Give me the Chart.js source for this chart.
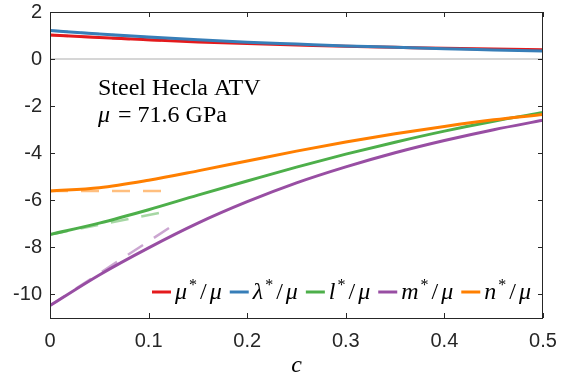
<!DOCTYPE html>
<html>
<head>
<meta charset="utf-8">
<script src="https://cdn.jsdelivr.net/npm/chart.js@4/dist/chart.umd.min.js"></script>
<style>
  html, body { margin: 0; padding: 0; background: #fff; }
  canvas { display: block; }
</style>
</head>
<body>
<canvas id="chart" width="561" height="382"></canvas>
<script>
// concentration c
const cValues = [0, 0.05, 0.1, 0.15, 0.2, 0.25, 0.3, 0.35, 0.4, 0.45, 0.5]

// normalised moduli
const muStar     = [1.02, 0.92, 0.82, 0.73, 0.66, 0.60, 0.54, 0.50, 0.46, 0.43, 0.40]
const lambdaStar = [1.21, 1.07, 0.94, 0.82, 0.72, 0.64, 0.56, 0.50, 0.44, 0.39, 0.34]
const lStar      = [-7.45, -6.97, -6.40, -5.78, -5.18, -4.59, -4.04, -3.53, -3.06, -2.64, -2.27]
const mStar      = [-10.47, -9.17, -8.02, -6.97, -6.06, -5.26, -4.58, -3.98, -3.46, -3.00, -2.60]
const nStar      = [-5.60, -5.47, -5.15, -4.75, -4.33, -3.91, -3.52, -3.17, -2.86, -2.58, -2.35]

// dilute-limit tangents (dashed): start value at c = 0, end point
const tangentStart = [1.02, 1.21, -7.45, -10.47, -5.60]
const tangentEndC  = [0.12, 0.12, 0.115, 0.125, 0.118]
const tangentEndY  = [0.76, 0.86, -6.50, -7.06, -5.60]

const seriesNames = ["μ", "λ", "l", "m", "n"]
const colors = ["#e41a1c", "#377eb8", "#4daf4a", "#984ea3", "#ff7f00"]
const colorsLight = ["rgba(228,26,28,0.5)", "rgba(55,126,184,0.5)", "rgba(77,175,74,0.5)",
                     "rgba(152,78,163,0.5)", "rgba(255,127,0,0.5)"]

const xTicks = [0, 0.1, 0.2, 0.3, 0.4, 0.5]
const yTicks = [-10, -8, -6, -4, -2, 0, 2]

const series = [muStar, lambdaStar, lStar, mStar, nStar]
const axisColor = "#262626"
const serif = "'Liberation Serif', 'DejaVu Serif', serif"

const datasets = []
// solid curves, later ones on top (lower order = drawn last)
series.forEach((s, i) => {
  datasets.push({
    data: cValues.map((c, j) => ({ x: c, y: s[j] })),
    borderColor: colors[i],
    borderWidth: 3,
    pointRadius: 0,
    cubicInterpolationMode: "monotone",
    order: 10 - i
  })
})
// dashed tangents on top
series.forEach((s, i) => {
  datasets.push({
    data: [{ x: 0, y: tangentStart[i] }, { x: tangentEndC[i], y: tangentEndY[i] }],
    borderColor: colorsLight[i],
    borderWidth: 2.5,
    borderDash: [18, 13],
    pointRadius: 0,
    order: 5 - i
  })
})
// zero line
datasets.push({
  data: [{ x: 0, y: 0 }, { x: 0.5, y: 0 }],
  borderColor: "#c8c8c8",
  borderWidth: 1.5,
  pointRadius: 0,
  order: 20
})

function line(ctx, x1, y1, x2, y2) {
  ctx.beginPath()
  ctx.moveTo(x1, y1)
  ctx.lineTo(x2, y2)
  ctx.stroke()
}

// draws a run of text pieces with different fonts, returns width
function richText(ctx, parts, x, y, measureOnly) {
  let w = 0
  parts.forEach(p => {
    ctx.font = p.f
    if (!measureOnly) ctx.fillText(p.t, x + w, y + (p.dy || 0))
    w += ctx.measureText(p.t).width + (p.after || 0)
  })
  return w
}

function legendParts(name) {
  return [
    { t: name, f: `italic 24px ${serif}`, after: 2 },
    { t: "*", f: `16px ${serif}`, dy: -9, after: 3 },
    { t: "/", f: `24px ${serif}`, after: 3 },
    { t: "μ", f: `italic 24px ${serif}` }
  ]
}

const decor = {
  id: "decor",
  afterDraw(chart) {
    const { ctx, chartArea: a, scales: { x, y } } = chart
    ctx.save()
    ctx.strokeStyle = axisColor
    ctx.lineWidth = 1
    ctx.strokeRect(a.left + 0.5, a.top + 0.5, a.right - a.left - 1, a.bottom - a.top)
    xTicks.forEach(v => {
      const px = Math.round(x.getPixelForValue(v)) + 0.5
      line(ctx, px, a.bottom, px, a.bottom - 5)
      line(ctx, px, a.top, px, a.top + 5)
    })
    yTicks.forEach(v => {
      const py = Math.round(y.getPixelForValue(v)) + 0.5
      line(ctx, a.left, py, a.left + 5, py)
      line(ctx, a.right, py, a.right - 5, py)
    })

    ctx.fillStyle = "#000"
    ctx.textBaseline = "alphabetic"
    // axis title
    ctx.font = `italic 24px ${serif}`
    ctx.textAlign = "center"
    ctx.fillText("c", (a.left + a.right) / 2, 372)

    // annotation
    ctx.textAlign = "left"
    ctx.font = `24px ${serif}`
    ctx.fillText("Steel Hecla ATV", 98, 95)
    richText(ctx, [
      { t: "μ", f: `italic 24px ${serif}`, after: 2 },
      { t: " = 71.6 GPa", f: `24px ${serif}` }
    ], 98, 122)

    // legend, right aligned inside the axes
    const sample = 19, gapIn = 4, gapOut = 8
    const widths = seriesNames.map(n => richText(ctx, legendParts(n), 0, 0, true))
    const total = widths.reduce((s, w) => s + sample + gapIn + w, 0) + gapOut * (widths.length - 1)
    let lx = 531 - total
    const ly = 292
    seriesNames.forEach((n, i) => {
      ctx.strokeStyle = colors[i]
      ctx.lineWidth = 3
      line(ctx, lx, ly, lx + sample, ly)
      lx += sample + gapIn
      ctx.fillStyle = "#000"
      richText(ctx, legendParts(n), lx, ly + 7)
      lx += widths[i] + gapOut
    })
    ctx.restore()
  }
}

new Chart(document.getElementById("chart"), {
  type: "line",
  data: { datasets },
  options: {
    responsive: false,
    animation: false,
    layout: { padding: { left: 0, right: 18, top: 12, bottom: 0 } },
    plugins: { legend: { display: false }, tooltip: { enabled: false } },
    scales: {
      x: {
        type: "linear",
        min: 0,
        max: 0.5,
        grid: { display: false, drawTicks: false },
        border: { display: false },
        afterBuildTicks: s => { s.ticks = xTicks.map(v => ({ value: v })) },
        afterFit: s => { s.height = 64; s.paddingLeft = 0; s.paddingRight = 0 },
        ticks: {
          padding: 11,
          color: axisColor,
          maxRotation: 0,
          font: { family: "'Liberation Sans', Arial, sans-serif", size: 20 },
          callback: v => v === 0 ? "0" : v.toFixed(1)
        }
      },
      y: {
        min: -11,
        max: 2,
        grid: { display: false, drawTicks: false },
        border: { display: false },
        afterBuildTicks: s => { s.ticks = yTicks.map(v => ({ value: v })) },
        afterFit: s => { s.width = 50; s.paddingTop = 0; s.paddingBottom = 0 },
        ticks: {
          padding: 8,
          color: axisColor,
          font: { family: "'Liberation Sans', Arial, sans-serif", size: 20 },
          callback: v => String(v)
        }
      }
    }
  },
  plugins: [decor]
})
</script>
</body>
</html>
